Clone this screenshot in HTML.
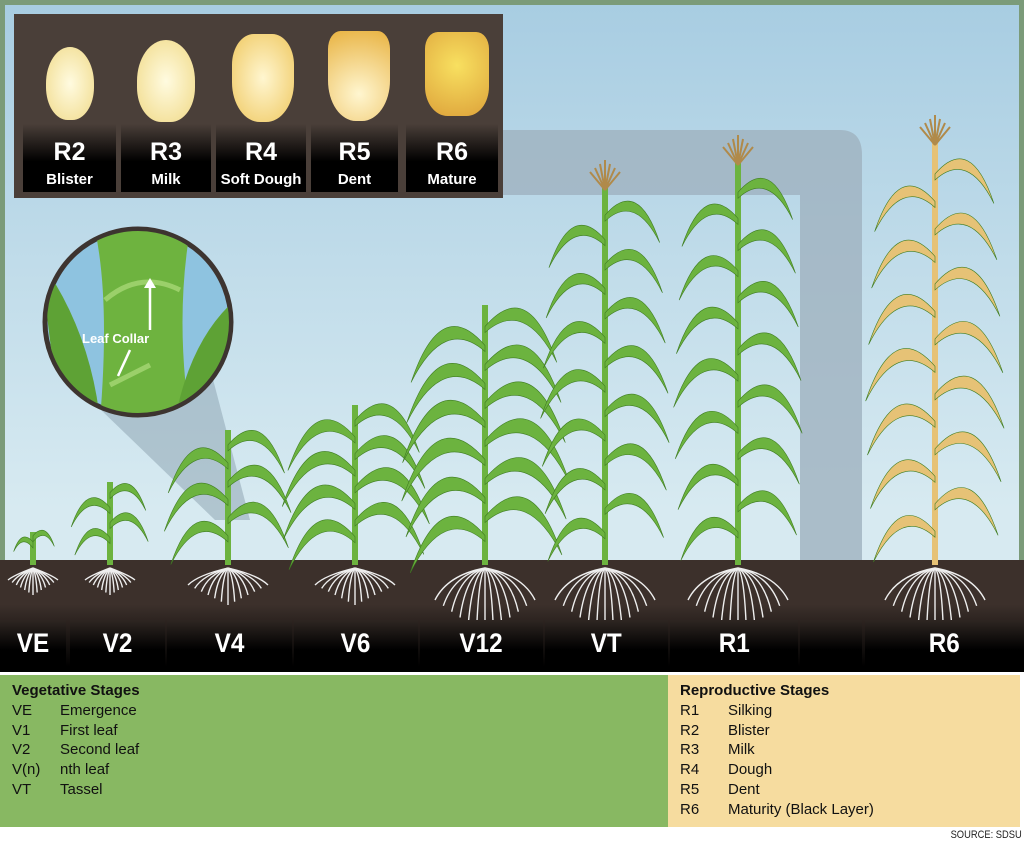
<!DOCTYPE html>
<html><head><meta charset="utf-8"><style>
*{margin:0;padding:0;box-sizing:border-box}
body{width:1024px;height:847px;overflow:hidden;background:#fff;font-family:"Liberation Sans",sans-serif;position:relative}
.abs{position:absolute}
.lbl{position:absolute;top:620px;height:50px;color:#fff;font-weight:bold;font-size:27px;text-align:center;line-height:46px;background:linear-gradient(#2e2622,#000 60%)}
.lbl span{display:inline-block;transform:scaleX(.9)}
.kc{position:absolute;top:22px;height:170px;background:linear-gradient(#4a3f39 60%,#000 82%);color:#fff;text-align:center;font-weight:bold}
.kc b{position:absolute;left:0;right:0;top:116px;font-size:25px}
.kc i{position:absolute;left:0;right:0;top:149px;font-size:15px;font-style:normal}
.leg{font-size:15px;line-height:19.8px;color:#111}
.leg span{display:inline-block;width:48px}
</style></head><body>
<div class="abs" style="left:0;top:0;width:1024px;height:672px;background:#7b9b79"></div>
<div class="abs" style="left:5px;top:5px;width:1014px;height:560px;background:linear-gradient(#a8cde2,#d7eaf1 90%)"></div>
<div class="abs" style="left:0;top:560px;width:1024px;height:112px;background:linear-gradient(#3c302b 40%,#000 95%)"></div>
<svg class="abs" style="left:0;top:0" width="1024" height="672" id="sv">
<path d="M500 130 H840 Q862 130 862 155 V560 H800 V195 H500 Z" fill="#9fb2bf" opacity=".8"/>
<polygon points="70,380 200,330 250,520 215,520" fill="#8aa0ad" opacity=".5"/>
<circle cx="138" cy="322" r="93" fill="#8ec3e0" stroke="#3d3430" stroke-width="5"/>
<clipPath id="cc"><circle cx="138" cy="322" r="91"/></clipPath>
<g clip-path="url(#cc)">
<path d="M95 230 Q110 300 100 420 L190 420 Q175 320 190 230Z" fill="#6eb33f"/>
<path d="M40 260 Q90 330 100 420 L60 420Z" fill="#5ea235"/>
<path d="M235 300 Q190 340 175 420 L235 420Z" fill="#5ea235"/>
<path d="M105 300 Q140 270 180 290" stroke="#9bd06a" stroke-width="5" fill="none"/>
<path d="M110 385 L150 365" stroke="#9bd06a" stroke-width="5"/>
<line x1="150" y1="330" x2="150" y2="282" stroke="#fff" stroke-width="2.5"/><polygon points="144,288 150,278 156,288" fill="#fff"/>
<line x1="130" y1="350" x2="118" y2="376" stroke="#fff" stroke-width="2.5"/>
</g>
<text x="82" y="343" fill="#fff" font-size="13" font-weight="bold" font-family="Liberation Sans">Leaf Collar</text>
<g id="pl"></g>
</svg>
<div class="abs" style="left:14px;top:14px;width:489px;height:184px;background:#4a3f39"></div>
<div class="kc" style="left:23px;width:93px"><b>R2</b><i>Blister</i></div>
<div class="kc" style="left:121px;width:90px"><b>R3</b><i>Milk</i></div>
<div class="kc" style="left:216px;width:90px"><b>R4</b><i>Soft Dough</i></div>
<div class="kc" style="left:311px;width:87px"><b>R5</b><i>Dent</i></div>
<div class="kc" style="left:406px;width:92px"><b>R6</b><i>Mature</i></div>
<div class="abs" style="left:46px;top:47px;width:48px;height:73px;border-radius:50% 50% 45% 45%;background:radial-gradient(#fffbe0,#f0da8a)"></div>
<div class="abs" style="left:137px;top:40px;width:58px;height:82px;border-radius:50% 50% 42% 42%;background:radial-gradient(#fffbe0,#f0d986)"></div>
<div class="abs" style="left:232px;top:34px;width:62px;height:88px;border-radius:35% 35% 45% 45%;background:radial-gradient(#fff6d0,#efc860)"></div>
<div class="abs" style="left:328px;top:31px;width:62px;height:90px;border-radius:20% 20% 45% 45%;background:radial-gradient(circle at 50% 70%,#fff6d0,#e8b240)"></div>
<div class="abs" style="left:425px;top:32px;width:64px;height:84px;border-radius:20% 20% 35% 35%;background:radial-gradient(circle at 50% 40%,#f8e060,#dda23a)"></div>
<div class="lbl" style="left:0;width:66px"><span>VE</span></div>
<div class="lbl" style="left:70px;width:95px"><span>V2</span></div>
<div class="lbl" style="left:167px;width:125px"><span>V4</span></div>
<div class="lbl" style="left:294px;width:124px"><span>V6</span></div>
<div class="lbl" style="left:420px;width:123px"><span>V12</span></div>
<div class="lbl" style="left:545px;width:123px"><span>VT</span></div>
<div class="lbl" style="left:670px;width:128px"><span>R1</span></div>
<div class="lbl" style="left:800px;width:62px"></div>
<div class="lbl" style="left:865px;width:159px"><span>R6</span></div>
<div class="abs leg" style="left:0;top:675px;width:668px;height:152px;background:#88b862;padding:6px 12px">
<div style="font-weight:bold">Vegetative Stages</div>
<div><span>VE</span>Emergence</div><div><span>V1</span>First leaf</div><div><span>V2</span>Second leaf</div><div><span>V(n)</span>nth leaf</div><div><span>VT</span>Tassel</div></div>
<div class="abs leg" style="left:668px;top:675px;width:352px;height:152px;background:#f6dc9f;padding:6px 12px">
<div style="font-weight:bold">Reproductive Stages</div>
<div><span>R1</span>Silking</div><div><span>R2</span>Blister</div><div><span>R3</span>Milk</div><div><span>R4</span>Dough</div><div><span>R5</span>Dent</div><div><span>R6</span>Maturity (Black Layer)</div></div>
<div class="abs" style="right:2px;top:829px;font-size:11px;color:#222;transform:scaleX(.85);transform-origin:right">SOURCE: SDSU</div>
<script>
var g=document.getElementById('pl'),h='';
var P=[[33,532,2,22,0,'#6cb33f'],[110,482,4,40,0,'#6cb33f'],[228,430,6,65,0,'#6cb33f'],[355,405,8,75,0,'#6cb33f'],[485,305,12,85,1,'#6cb33f'],[605,185,14,65,2,'#6cb33f'],[738,160,14,65,2,'#6cb33f'],[935,140,14,70,2,'#e6c276']];
P.forEach(function(p){var x=p[0],t=p[1],n=p[2],L=p[3],c=p[5],b=565;
 h+='<path d="M'+x+' '+b+' L'+x+' '+t+'" stroke="'+c+'" stroke-width="6"/>';
 for(var i=0;i<n;i++){var y=b-20-(b-t-20)*(i+0.5)/n*0.95,s=i%2?1:-1,l=L*(1-0.3*Math.abs(i/n-0.4));
 h+='<path d="M'+x+' '+y+' Q'+(x+s*l*0.6)+' '+(y-l*0.7)+' '+(x+s*l)+' '+(y+l*0.5)+' Q'+(x+s*l*0.55)+' '+(y-l*0.4)+' '+x+' '+(y+6)+'Z" fill="'+c+'" stroke="#3f7d22" stroke-width=".6"/>';}
 if(p[4]==2)for(var k=-3;k<=3;k++)h+='<line x1="'+x+'" y1="'+(t+5)+'" x2="'+(x+k*5)+'" y2="'+(t-25+Math.abs(k)*4)+'" stroke="#b08a4a" stroke-width="2"/>';
 var rd=n<5?30:n<9?40:70,rw=n<5?25:n<9?40:50;
 for(var r=-6;r<=6;r++)h+='<path d="M'+x+' '+(b+3)+' Q'+(x+r*rw/8)+' '+(b+10)+' '+(x+r*rw/6)+' '+(b+rd*(1-Math.abs(r)/12))+'" stroke="#eee" stroke-width="1.4" fill="none"/>';
});
g.innerHTML=h;
</script>
</body></html>
